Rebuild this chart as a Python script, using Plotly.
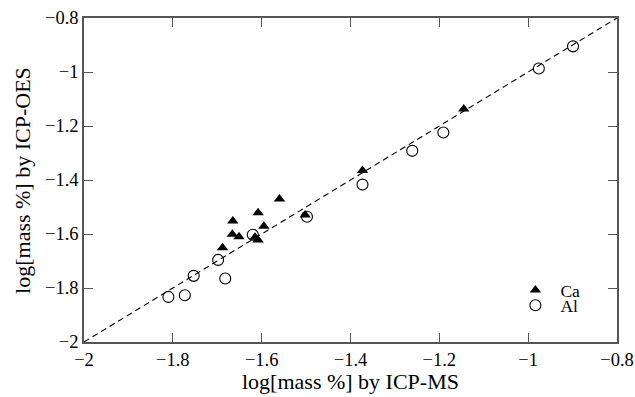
import plotly.graph_objects as go

ca_x = [-1.560, -1.608, -1.665, -1.595, -1.666, -1.651, -1.615, -1.608, -1.688, -1.502, -1.145, -1.373]
ca_y = [-1.470, -1.521, -1.552, -1.571, -1.601, -1.610, -1.612, -1.622, -1.651, -1.530, -1.137, -1.365]

al_x = [-0.899, -0.976, -1.191, -1.261, -1.373, -1.620, -1.498, -1.698, -1.753, -1.682, -1.773, -1.810]
al_y = [-0.905, -0.987, -1.224, -1.292, -1.417, -1.603, -1.536, -1.696, -1.755, -1.765, -1.827, -1.833]

line_x = [-2.0, -0.8]
line_y = [-2.0, -0.8]

tick_vals = [-2, -1.8, -1.6, -1.4, -1.2, -1, -0.8]
tick_text = ["\u22122", "\u22121.8", "\u22121.6", "\u22121.4", "\u22121.2", "\u22121", "\u22120.8"]

x_title = "log[mass %] by ICP-MS"
y_title = "log[mass %] by ICP-OES"

FONT = "Liberation Serif"

fig = go.Figure()
fig.add_trace(go.Scatter(x=line_x, y=line_y, mode="lines",
                         line=dict(color="black", width=1.1, dash="6px,4px"),
                         showlegend=False, hoverinfo="skip"))
fig.add_trace(go.Scatter(x=ca_x, y=ca_y, mode="markers", name="Ca", legend="legend",
                         marker=dict(symbol="triangle-up", size=10, color="black",
                                     line=dict(width=0))))
fig.add_trace(go.Scatter(x=al_x, y=al_y, mode="markers", name="Al", legend="legend2",
                         marker=dict(symbol="circle-open", size=11, color="black",
                                     line=dict(width=1.1, color="black"))))

axis_common = dict(
    range=[-2, -0.8], tickvals=tick_vals, ticktext=tick_text,
    ticks="inside", ticklen=9, tickwidth=1.2, tickcolor="#555",
    showline=True, linecolor="#555", linewidth=1.5, mirror="ticks",
    showgrid=False, zeroline=False, automargin=False,
    tickfont=dict(family=FONT, size=18.5, color="black"),
)

leg_common = dict(xanchor="left", yanchor="middle", bgcolor="rgba(0,0,0,0)",
                  borderwidth=0, font=dict(family=FONT, size=17.5), itemwidth=40)

fig.update_layout(
    width=635, height=397,
    margin=dict(l=84, r=18, t=18, b=55),
    paper_bgcolor="white", plot_bgcolor="white",
    font=dict(family=FONT, size=18, color="black"),
    xaxis=axis_common,
    yaxis=axis_common,
    legend=dict(leg_common, x=0.80, y=0.160),
    legend2=dict(leg_common, x=0.80, y=0.113),
    showlegend=True,
    annotations=[
        dict(text=x_title, xref="paper", yref="paper", x=0.5, y=-0.1215,
             xanchor="center", yanchor="middle", showarrow=False,
             font=dict(family=FONT, size=22, color="black")),
        dict(text=y_title, xref="paper", yref="paper", x=-0.1165, y=0.5,
             xanchor="center", yanchor="middle", showarrow=False, textangle=-90,
             font=dict(family=FONT, size=22, color="black")),
    ],
)

fig.write_html("out.html", config={"displayModeBar": False},
               post_script="document.body.style.margin='0px';")
